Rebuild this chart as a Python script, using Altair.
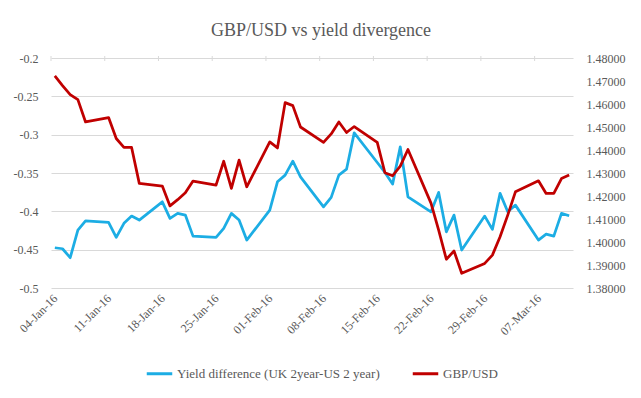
import altair as alt
import pandas as pd

# ---- data ----
dates = [
    "2016-01-04", "2016-01-05", "2016-01-06", "2016-01-07", "2016-01-08",
    "2016-01-11", "2016-01-12", "2016-01-13", "2016-01-14", "2016-01-15",
    "2016-01-18", "2016-01-19", "2016-01-20", "2016-01-21", "2016-01-22",
    "2016-01-25", "2016-01-26", "2016-01-27", "2016-01-28", "2016-01-29",
    "2016-02-01", "2016-02-02", "2016-02-03", "2016-02-04", "2016-02-05",
    "2016-02-08", "2016-02-09", "2016-02-10", "2016-02-11", "2016-02-12",
    "2016-02-15", "2016-02-16", "2016-02-17", "2016-02-18", "2016-02-19",
    "2016-02-22", "2016-02-23", "2016-02-24", "2016-02-25", "2016-02-26",
    "2016-02-29", "2016-03-01", "2016-03-02", "2016-03-03", "2016-03-04",
    "2016-03-07", "2016-03-08", "2016-03-09", "2016-03-10", "2016-03-11",
]

gbpusd = [
    1.4722, 1.4680, 1.4641, 1.4619, 1.4522,
    1.4541, 1.4450, 1.4411, 1.4411, 1.4255,
    1.4243, 1.4157, 1.4184, 1.4214, 1.4265,
    1.4247, 1.4351, 1.4233, 1.4356, 1.4240,
    1.4435, 1.4409, 1.4606, 1.4593, 1.4500,
    1.4433, 1.4470, 1.4522, 1.4476, 1.4502,
    1.4433, 1.4301, 1.4288, 1.4330, 1.4402,
    1.4169, 1.4052, 1.3925, 1.3961, 1.3864,
    1.3907, 1.3943, 1.4023, 1.4117, 1.4218,
    1.4266, 1.4211, 1.4211, 1.4276, 1.4291,
]

yield_diff = [
    -0.4475, -0.4488, -0.4605, -0.4244, -0.4123,
    -0.4144, -0.4339, -0.4157, -0.4062, -0.4114,
    -0.3876, -0.4092, -0.4027, -0.4049, -0.4323,
    -0.4339, -0.4222, -0.4027, -0.4114, -0.4375,
    -0.3984, -0.3615, -0.3528, -0.3346, -0.3550,
    -0.3941, -0.3818, -0.3528, -0.3450, -0.2977,
    -0.3363, -0.3493, -0.3645, -0.3159, -0.3811,
    -0.4006, -0.3753, -0.4267, -0.4049, -0.4505,
    -0.4062, -0.4235, -0.3766, -0.4006, -0.3919,
    -0.4375, -0.4297, -0.4323, -0.4027, -0.4058,
]

tick_dates = ["2016-01-04", "2016-01-11", "2016-01-18", "2016-01-25", "2016-02-01",
              "2016-02-08", "2016-02-15", "2016-02-22", "2016-02-29", "2016-03-07"]

left_ticks = [-0.5, -0.45, -0.4, -0.35, -0.3, -0.25, -0.2]
right_ticks = [1.38, 1.39, 1.40, 1.41, 1.42, 1.43, 1.44, 1.45, 1.46, 1.47, 1.48]

SERIES_Y = "Yield difference (UK 2year-US 2 year)"
SERIES_G = "GBP/USD"
BLUE = "#1CADE4"
RED = "#C00000"
GRID = "#D9D9D9"
TXT = "#595959"
FONT = "Liberation Serif"

df = pd.DataFrame({
    "date": [d + "T12:00:00" for d in dates],
    "gbpusd": gbpusd,
    "yield": yield_diff,
})
ticks_df = pd.DataFrame({"tick": [d + "T00:00:00" for d in tick_dates]})

x_scale = alt.Scale(domain=[alt.DateTime(year=2016, month=1, date=4),
                            alt.DateTime(year=2016, month=3, date=12)])

x_axis = alt.Axis(
    values=[alt.DateTime(year=int(d[:4]), month=int(d[5:7]), date=int(d[8:])) for d in tick_dates],
    format="%d-%b-%y", labelAngle=-45, labelAlign="right", labelBaseline="middle",
    labelPadding=8, labelOffset=4, ticks=False, domain=False, grid=False, title=None,
    labelFont=FONT, labelFontSize=12, labelColor=TXT,
)

color_scale = alt.Scale(domain=[SERIES_Y, SERIES_G], range=[BLUE, RED])
legend = alt.Legend(
    title=None, orient="none", direction="horizontal", legendX=94, legendY=301,
    symbolType="stroke", symbolStrokeWidth=3, symbolSize=650, labelLimit=400,
    labelFont=FONT, labelFontSize=13, labelColor=TXT, columnPadding=26, labelOffset=3,
)

base = alt.Chart(df)

blue_line = base.transform_calculate(series=f"'{SERIES_Y}'").mark_line(
    strokeWidth=2.75, strokeJoin="round"
).encode(
    x=alt.X("date:T", scale=x_scale, axis=x_axis),
    y=alt.Y("yield:Q", scale=alt.Scale(domain=[-0.5, -0.2], nice=False, zero=False),
            axis=alt.Axis(values=left_ticks, labelExpr="'' + datum.value", grid=True,
                          gridColor=GRID, gridWidth=1, ticks=False, domain=False, title=None,
                          labelFont=FONT, labelFontSize=12, labelColor=TXT, labelPadding=13)),
    color=alt.Color("series:N", scale=color_scale, legend=legend),
)

red_line = base.transform_calculate(series=f"'{SERIES_G}'").mark_line(
    strokeWidth=2.75, strokeJoin="round"
).encode(
    x=alt.X("date:T", scale=x_scale, axis=x_axis),
    y=alt.Y("gbpusd:Q", scale=alt.Scale(domain=[1.38, 1.48], nice=False, zero=False),
            axis=alt.Axis(values=right_ticks, format=".5f", orient="right", grid=False,
                          ticks=False, domain=False, title=None,
                          labelFont=FONT, labelFontSize=12, labelColor=TXT, labelPadding=13)),
    color=alt.Color("series:N", scale=color_scale, legend=legend),
)

top_ticks = alt.Chart(ticks_df).mark_rule(color=GRID, strokeWidth=1).encode(
    x=alt.X("tick:T", scale=x_scale, axis=x_axis),
    y=alt.value(-2),
    y2=alt.value(3),
)

chart = alt.layer(top_ticks, blue_line, red_line).resolve_scale(y="independent").properties(
    width=522, height=230,
    title=alt.Title("GBP/USD vs yield divergence", font=FONT, fontSize=18, color=TXT,
                    fontWeight="normal", anchor="middle", dx=9, offset=12),
    autosize=alt.AutoSizeParams(type="none"),
    padding={"left": 43, "top": 50, "right": 60, "bottom": 100},
).configure_view(stroke=None).configure_axis(
    labelFont=FONT, labelColor=TXT, labelFontSize=12
).configure_legend(
    labelFont=FONT, labelColor=TXT, labelFontSize=13, labelLimit=400
).configure_title(font=FONT)

chart.save("out.html", embed_options={"renderer": "svg", "actions": False})
